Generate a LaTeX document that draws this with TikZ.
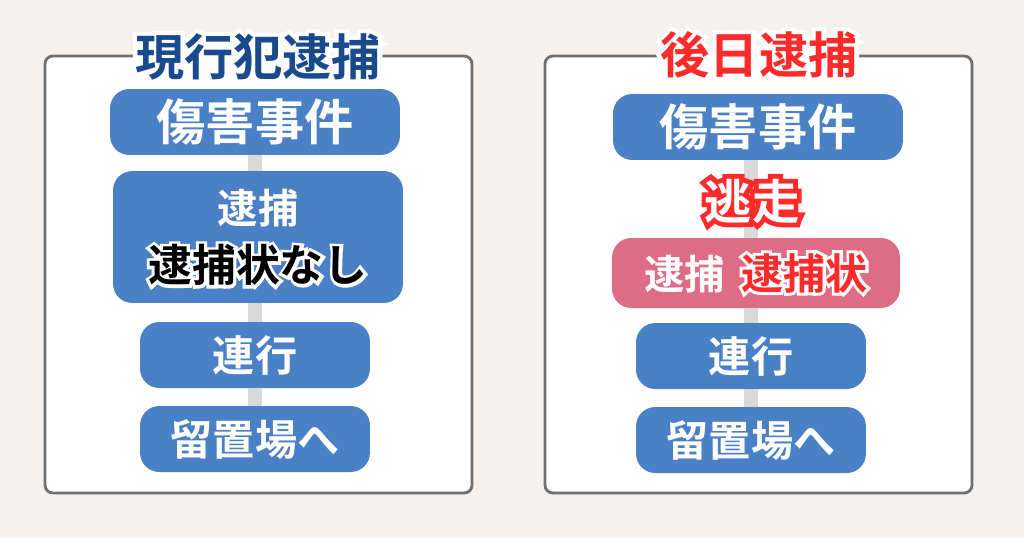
\documentclass[tikz,border=0pt]{standalone}
\usepackage{fontspec}
\usepackage{xcolor}
\usepackage{tikz}
\usetikzlibrary{positioning}
\setmainfont{Noto Sans CJK JP}[BoldFont={* Bold}]

\definecolor{bgbeige}{HTML}{F4F1EE}
\definecolor{framegray}{HTML}{707070}
\definecolor{stageblue}{HTML}{4A80C6}
\definecolor{stagepink}{HTML}{DD6C84}
\definecolor{linkgray}{HTML}{D9D9D9}
\definecolor{titleblue}{HTML}{184A8C}
\definecolor{alertred}{HTML}{FF2A2A}

% text with a halo round it: [stroke amount]{halo colour}{text colour}{text}
\newcommand{\outlined}[4][15]{%
  \leavevmode
  \rlap{\addfontfeature{FakeBold=#1}\textcolor{#2}{#4}}%
  \textcolor{#3}{#4}}

\begin{document}
\begin{tikzpicture}[x=0.02cm, y=-0.02cm]
\tikzstyle{panel}  = [draw=framegray, line width=1.6pt, fill=white, rounded corners=4.5pt]
\tikzstyle{stage}  = [rectangle, rounded corners=11pt, fill=stageblue, text=white, text centered, minimum height=1.32cm, font={\fontsize{24pt}{28pt}\selectfont\bfseries}]
\tikzstyle{wide}   = [stage, minimum width=5.8cm]
\tikzstyle{narrow} = [stage, minimum width=4.6cm]
\tikzstyle{label}  = [inner sep=0pt, font={\fontsize{25pt}{28pt}\selectfont\bfseries}]
\tikzstyle{link}   = [draw=linkgray, line width=8.5pt]
\useasboundingbox (0,0) rectangle (1024,538);
\fill[bgbeige] (0,0) rectangle (1024,538);
\path[panel] (45,56) rectangle (472,493);
\path[panel] (545,56) rectangle (972,493);
% left: caught in the act
\node[wide, font={\fontsize{28pt}{30pt}\selectfont\bfseries}] at (255,122) (h0){傷害事件};
\node[wide, minimum height=2.64cm] at (258,237) (h1){};
\node[label, text=white, font={\fontsize{23pt}{26pt}\selectfont\bfseries}] at (258,208) (h1_top){逮捕};
\node[label] at (258,265) (h1_bot){\outlined[14]{white}{black}{逮捕状なし}};
\node[narrow] at (255,355) (h2){連行};
\node[narrow] at (255,439) (h3){留置場へ};
\draw[link] (h0.south) -- (h0.south |- h1.north);
\draw[link] (h0.south |- h1.south) -- (h2.north);
\draw[link] (h2.south) -- (h3.north);
\node[label, font={\fontsize{28pt}{30pt}\selectfont\bfseries}] at (258,57) (t0){\outlined[18]{white}{titleblue}{現行犯逮捕}};
% right: arrest later
\node[wide, font={\fontsize{28pt}{30pt}\selectfont\bfseries}] at (758,127) (r0){傷害事件};
\node[stage, fill=stagepink, minimum width=5.76cm, minimum height=1.4cm] at (756,273) (r1){{\fontsize{23pt}{26pt}\selectfont 逮捕}\hspace{9pt}\outlined[14]{white}{alertred}{逮捕状}};
\node[narrow] at (751,356) (r2){連行};
\node[narrow] at (751,440) (r3){留置場へ};
\draw[link] (r2.north |- r0.south) -- (r2.north |- r1.north);
\draw[link] (r2.north |- r1.south) -- (r2.north);
\draw[link] (r2.south) -- (r3.north);
\node[label, font={\fontsize{27pt}{30pt}\selectfont\bfseries}] at (752,201) (r_flee){\outlined[20]{alertred}{white}{逃走}};
\node[label, font={\fontsize{28pt}{30pt}\selectfont\bfseries}] at (759,55) (t1){\outlined[18]{white}{alertred}{後日逮捕}};
\end{tikzpicture}
\end{document}
